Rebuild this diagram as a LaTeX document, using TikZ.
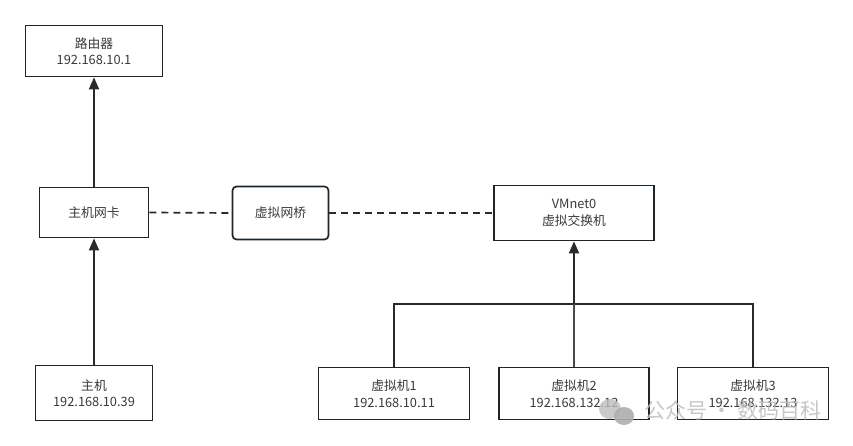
\documentclass[tikz,border=0pt]{standalone}
\usepackage{fontspec}
\setmainfont{Noto Sans CJK SC}
\usetikzlibrary{arrows.meta}
\definecolor{boxline}{HTML}{1E252B}
\definecolor{txt}{HTML}{3A3A3A}
\definecolor{edge}{HTML}{2A2A2A}
\definecolor{wm}{HTML}{BDBDBD}
\tikzset{
  box/.style={draw=boxline, line width=1.7pt, fill=white, inner sep=0pt,
    text=txt, align=center, font=\fontsize{12.8}{16.5}\selectfont},
  arrowline/.style={draw=edge, line width=1.8pt, -{Triangle[length=12pt,width=10pt]}},
  dashline/.style={draw=edge, line width=1.7pt, dash pattern=on 7pt off 5pt},
  busline/.style={draw=edge, line width=1.4pt},
  thinline/.style={draw=edge!85, line width=1.1pt},
}
\begin{document}
\begin{tikzpicture}[x=1pt,y=-1pt]
\useasboundingbox (0,0) rectangle (853,446);
% nodes
\node[box, minimum width=137pt, minimum height=51pt] (router) at (94,51) {路由器\\192.168.10.1};
\node[box, minimum width=109pt, minimum height=50pt] (nic) at (94,212.5) {主机网卡};
\node[box, minimum width=117pt, minimum height=55pt] (host) at (94,393) {主机\\192.168.10.39};
\node[box, rounded corners=4pt, minimum width=96pt, minimum height=53pt] (bridge) at (280.5,213) {虚拟网桥};
\node[box, minimum width=160pt, minimum height=55pt] (vmnet) at (574,213) {VMnet0\\虚拟交换机};
\node[box, minimum width=151pt, minimum height=52pt] (vm1) at (394,393.5) {虚拟机1\\192.168.10.11};
\node[box, minimum width=150pt, minimum height=52pt] (vm2) at (574,393.5) {虚拟机2\\192.168.132.12};
\node[box, minimum width=151pt, minimum height=52pt] (vm3) at (753,393.5) {虚拟机3\\192.168.132.13};
\coordinate (bus) at (574,304);
% connectors
\draw[arrowline] (nic.north) -- (router.south);
\draw[arrowline] (host.north) -- (nic.south);
\draw[dashline] (nic.east) -- (bridge.west);
\draw[dashline] (bridge.east) -- (vmnet.west);
\draw[busline] (vm1.north) |- (bus) -| (vm3.north);
\draw[thinline] (vm2.north) -- (bus);
\draw[arrowline] (bus) -- (vmnet.south);
% watermark
\fill[wm, opacity=0.8] (610,409) ellipse (11pt and 10pt);
\fill[wm!75!gray, opacity=0.9] (624,416) ellipse (10pt and 9pt);
\node[text=wm, font=\fontsize{21}{21}\selectfont, inner sep=0pt, opacity=0.85] (wmtext) at (733,410) {公众号 · 数码百科};
\end{tikzpicture}
\end{document}
